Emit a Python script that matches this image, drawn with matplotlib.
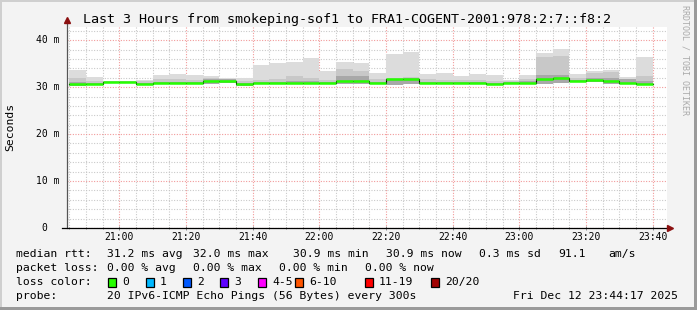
import matplotlib
matplotlib.use("Agg")
import matplotlib.pyplot as plt
import numpy as np
from matplotlib.patches import Rectangle

plt.rcParams['font.family'] = 'DejaVu Sans Mono'

# 5-minute steps starting at 20:45 (minutes after 20:00)
step_start = np.arange(45, 220, 5)

median = [30.6, 30.6, 31.06, 31.06, 30.6, 30.9, 30.9, 30.9, 31.3, 31.3,
          30.6, 30.9, 30.9, 30.9, 30.9, 30.9, 31.3, 31.3, 30.9, 31.7,
          31.7, 30.9, 30.9, 30.9, 30.9, 30.6, 30.9, 30.9, 31.7, 31.9,
          31.3, 31.6, 31.3, 30.9, 30.6]
rtt_min = [30.3, 30.4, 30.9, 30.9, 30.4, 30.6, 30.6, 30.6, 30.6, 30.8,
           30.3, 30.6, 30.6, 30.6, 30.6, 30.6, 30.7, 30.7, 30.6, 30.5,
           30.6, 30.6, 30.6, 30.6, 30.6, 30.4, 30.7, 30.6, 30.6, 30.8,
           31.0, 31.1, 30.6, 30.7, 30.4]
rtt_max = [33.6, 32.1, 31.3, 31.3, 31.5, 32.6, 32.8, 32.6, 32.3, 31.9,
           31.9, 34.7, 35.1, 35.3, 36.2, 33.4, 35.3, 35.1, 33.0, 37.0,
           37.4, 32.8, 33.0, 32.3, 32.8, 32.6, 31.5, 32.6, 37.2, 38.1,
           32.8, 33.4, 33.6, 32.1, 36.4]
rtt_mid = [32.0, 31.4, 31.2, 31.2, 31.2, 31.7, 31.8, 31.6, 31.9, 31.8,
           31.4, 31.5, 31.8, 32.4, 31.9, 31.6, 33.8, 33.5, 31.7, 32.0,
           32.2, 31.7, 31.6, 31.5, 31.5, 31.4, 31.2, 31.8, 36.4, 36.6,
           31.9, 32.9, 33.3, 31.6, 32.4]
rtt_dark = [31.0, 30.8, 31.1, 31.1, 30.8, 31.1, 31.1, 31.1, 31.7, 31.7,
            30.9, 31.1, 31.1, 31.3, 31.2, 31.1, 32.4, 32.3, 31.1, 31.8,
            31.9, 31.1, 31.1, 31.1, 31.1, 30.9, 31.0, 31.2, 32.5, 32.6,
            31.5, 32.0, 31.9, 31.7, 31.2]

xticks = [60, 80, 100, 120, 140, 160, 180, 200, 220]
xlabels = ['21:00', '21:20', '21:40', '22:00', '22:20', '22:40', '23:00', '23:20', '23:40']
yticks = [0, 10, 20, 30, 40]
ylabels = ['0', '10 m', '20 m', '30 m', '40 m']

loss_labels = ['0', '1', '2', '3', '4-5', '6-10', '11-19', '20/20']
loss_colors = ['#26ff00', '#00b8ff', '#0059ff', '#5e00ff', '#ff00ff', '#ff5500', '#ff0000', '#a00000']

W, H = 697, 310
fig = plt.figure(figsize=(W / 100, H / 100), dpi=100, facecolor='#f3f3f3')
ax = fig.add_axes([67 / W, 82 / H, 600 / W, 201 / H])
ax.set_facecolor('white')
x0, x1 = 44.28, 224.28
ax.set_xlim(x0, x1)
ax.set_ylim(0, 42.8)

# grid
ax.set_xticks(np.arange(45, 225, 5), minor=True)
ax.set_yticks(np.arange(0, 43, 2), minor=True)
ax.set_xticks(xticks)
ax.set_yticks(yticks)
ax.grid(which='minor', color='#c4c4c4', lw=0.8, linestyle=(0, (0.9, 1.5)))
ax.grid(which='major', color='#f09090', lw=0.8, linestyle=(0, (0.9, 1.5)))
ax.set_axisbelow(True)
for s in ax.spines.values():
    s.set_visible(False)

# smoke
lo = np.array(rtt_min)
ax.bar(step_start, np.array(rtt_max) - lo, bottom=lo, width=5, align='edge', color='#dcdcdc', lw=0)
ax.bar(step_start, np.array(rtt_mid) - lo, bottom=lo, width=5, align='edge', color='#c8c8c8', lw=0)
ax.bar(step_start, np.array(rtt_dark) - lo, bottom=lo, width=5, align='edge', color='#a8a8a8', lw=0)

# median
ax.step(list(step_start) + [220], median + [median[-1]], where='post', color='black', lw=0.8, zorder=3)
ax.hlines(median, step_start, step_start + 5, color='#26ff00', lw=1.8, zorder=4)

# axes with arrows
ax.plot([x0, x0], [0, 44.0], color='#555555', lw=0.9, clip_on=False, zorder=5)
ax.plot(x0, 44.2, marker='^', color='#8b1010', ms=4.5, clip_on=False, zorder=6)
ax.plot([x0 - 1.5, x1 + 0.3], [0, 0], color='black', lw=0.9, clip_on=False, zorder=5)
ax.plot(x1 + 0.8, 0, marker='>', color='#8b1010', ms=4.5, clip_on=False, zorder=6)

ax.tick_params(which='both', direction='inout', length=3, width=0.6, color='#777777', pad=1.5,
               labelsize=7)
ax.tick_params(which='minor', length=2)
ax.set_xticklabels(xlabels)
ax.set_yticklabels([])
ax.tick_params(axis='y', which='both', left=False)
for v, lab in zip(yticks, ylabels):
    xpos = -7 / 600 if lab != '0' else -19.5 / 600
    ax.text(xpos, v, lab, transform=ax.get_yaxis_transform(), ha='right', va='center', fontsize=7)

# titles
fig.text(347 / W, 1 - 19 / H, 'Last 3 Hours from smokeping-sof1 to FRA1-COGENT-2001:978:2:7::f8:2',
         ha='center', va='center', fontsize=9.6)
fig.text(10 / W, 1 - 127 / H, 'Seconds', rotation=90, ha='center', va='center', fontsize=8.2)
fig.text(685 / W, 1 - 60 / H, 'RRDTOOL / TOBI OETIKER', rotation=-90, ha='center', va='center',
         fontsize=6, color='#aaaaaa')

# legend rows
fs = 8.2
def row(y, items):
    for x, t in items:
        fig.text(x / W, 1 - y / H, t, ha='left', va='center', fontsize=fs)

row(254, [(16, 'median rtt:'), (107, '31.2 ms avg'), (193, '32.0 ms max'), (293, '30.9 ms min'),
          (386, '30.9 ms now'), (479, '0.3 ms sd'), (558, '91.1'), (608, 'am/s')])
row(268, [(16, 'packet loss:'), (107, '0.00 % avg'), (193, '0.00 % max'), (279, '0.00 % min'),
          (365, '0.00 % now')])
row(282, [(16, 'loss color:')])
box_x = [108, 146, 183, 220, 258, 295, 365, 431]
for bx, lab, col in zip(box_x, loss_labels, loss_colors):
    fig.patches.append(Rectangle((bx / W, 1 - 286.5 / H), 8 / W, 9 / H, transform=fig.transFigure,
                                 facecolor=col, edgecolor='black', lw=0.9))
    fig.text((bx + 14) / W, 1 - 282 / H, lab, ha='left', va='center', fontsize=fs)
row(296, [(16, 'probe:'), (107, '20 IPv6-ICMP Echo Pings (56 Bytes) every 300s'),
          (513, 'Fri Dec 12 23:44:17 2025')])

# frame
fig.patches.append(Rectangle((0, 0), 2 / W, 1, transform=fig.transFigure, color='#cfcfcf', lw=0))
fig.patches.append(Rectangle((0, 1 - 2 / H), 1, 2 / H, transform=fig.transFigure, color='#cfcfcf', lw=0))
fig.patches.append(Rectangle((1 - 3 / W, 0), 3 / W, 1, transform=fig.transFigure, color='#9a9a9a', lw=0))
fig.patches.append(Rectangle((0, 0), 1, 3 / H, transform=fig.transFigure, color='#9a9a9a', lw=0))

fig.savefig('out.png', dpi=100, facecolor=fig.get_facecolor())
